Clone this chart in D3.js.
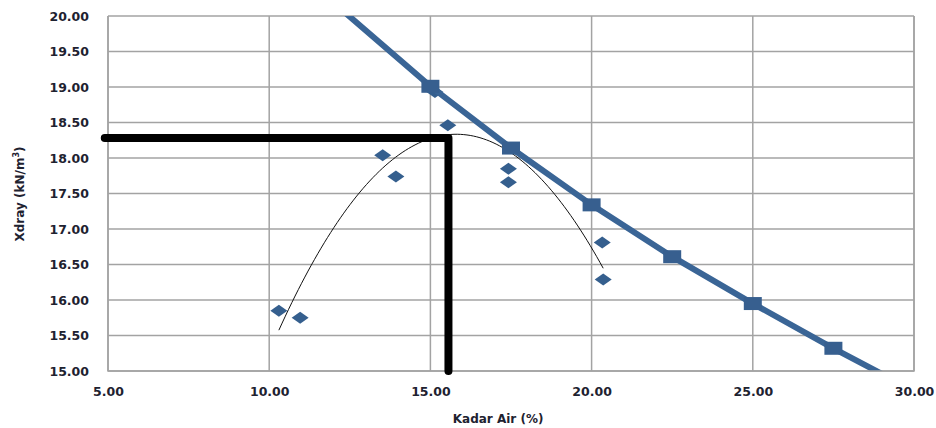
<!DOCTYPE html>
<html>
<head>
<meta charset="utf-8">
<script src="https://cdn.jsdelivr.net/npm/d3@7"></script>
<style>
	body { margin: 0; background: #fff; }
	svg { display: block; font-family: "DejaVu Sans", Verdana, sans-serif; }
</style>
</head>
<body>
<svg id="chart"></svg>
<script>
// zero air voids line (squares)
const zavX = [10, 15, 17.5, 20, 22.5, 25, 27.5, 30];
const zavY = [20.97, 19.01, 18.14, 17.34, 16.61, 15.95, 15.32, 14.72];
const zavMarked = [15, 17.5, 20, 22.5, 25, 27.5];

// compaction test points (diamonds)
const testX = [10.30, 10.96, 13.52, 13.93, 15.14, 15.54, 17.42, 17.42, 20.33, 20.36];
const testY = [15.85, 15.75, 18.04, 17.74, 18.93, 18.46, 17.85, 17.66, 16.81, 16.29];

// optimum moisture / max dry density guide
const optW = 15.56;
const maxDry = 18.28;

const xTicks = [5, 10, 15, 20, 25, 30];
const yTicks = [15, 15.5, 16, 16.5, 17, 17.5, 18, 18.5, 19, 19.5, 20];

const W = 936, H = 428;
const margin = { top: 16, right: 22, bottom: 57, left: 108 };
const width = W - margin.left - margin.right;
const height = H - margin.top - margin.bottom;

const svg = d3.select('#chart').attr('width', W).attr('height', H);

const x = d3.scaleLinear().domain([5, 30]).range([0, width]);
const y = d3.scaleLinear().domain([15, 20]).range([height, 0]);

svg.append('defs').append('clipPath').attr('id', 'clip')
	.append('rect').attr('x', 0).attr('y', 0).attr('width', width).attr('height', height);

const g = svg.append('g').attr('transform', `translate(${margin.left},${margin.top})`);

// grid
g.append('g').selectAll('line').data(yTicks).join('line')
	.attr('x1', 0).attr('x2', width)
	.attr('y1', d => y(d)).attr('y2', d => y(d))
	.attr('stroke', '#a3a3a3').attr('stroke-width', 1.5);
g.append('g').selectAll('line').data(xTicks).join('line')
	.attr('x1', d => x(d)).attr('x2', d => x(d))
	.attr('y1', 0).attr('y2', height)
	.attr('stroke', '#a3a3a3').attr('stroke-width', 1.5);

// axes labels
const yAxis = g.append('g').call(d3.axisLeft(y).tickValues(yTicks).tickFormat(d3.format('.2f')).tickSize(0).tickPadding(19));
yAxis.select('.domain').remove();
const xAxis = g.append('g').attr('transform', `translate(0,${height})`)
	.call(d3.axisBottom(x).tickValues(xTicks).tickFormat(d3.format('.2f')).tickSize(0).tickPadding(16));
xAxis.select('.domain').remove();
svg.selectAll('.tick text')
	.attr('font-family', '"DejaVu Sans", Verdana, sans-serif')
	.attr('font-size', 12.5).attr('font-weight', 'bold').attr('fill', '#1e2230');

const plot = g.append('g').attr('clip-path', 'url(#clip)');

// polynomial trendline (2nd order least squares on test points)
function polyFit(xs, ys) {
	let n = xs.length, s = [0, 0, 0, 0, 0], t = [0, 0, 0];
	for (let i = 0; i < n; i++) {
		let p = 1;
		for (let k = 0; k < 5; k++) { s[k] += p; if (k < 3) t[k] += p * ys[i]; p *= xs[i]; }
	}
	let A = [[s[0], s[1], s[2], t[0]], [s[1], s[2], s[3], t[1]], [s[2], s[3], s[4], t[2]]];
	for (let i = 0; i < 3; i++) {
		for (let j = i + 1; j < 3; j++) {
			let f = A[j][i] / A[i][i];
			for (let k = i; k < 4; k++) A[j][k] -= f * A[i][k];
		}
	}
	let c = [0, 0, 0];
	for (let i = 2; i >= 0; i--) {
		let v = A[i][3];
		for (let k = i + 1; k < 3; k++) v -= A[i][k] * c[k];
		c[i] = v / A[i][i];
	}
	return c;
}
const coef = polyFit(testX, testY);
const xMin = d3.min(testX), xMax = d3.max(testX);
const trend = d3.range(0, 101).map(i => {
	let xv = xMin + (xMax - xMin) * i / 100;
	return [xv, coef[0] + coef[1] * xv + coef[2] * xv * xv];
});
plot.append('path')
	.attr('fill', 'none').attr('stroke', '#111').attr('stroke-width', 1)
	.attr('d', d3.line().x(d => x(d[0])).y(d => y(d[1]))(trend));

// diamonds
plot.append('g').selectAll('path').data(testX.map((d, i) => [d, testY[i]])).join('path')
	.attr('transform', d => `translate(${x(d[0])},${y(d[1])})`)
	.attr('d', 'M0,-6L8.5,0L0,6L-8.5,0Z')
	.attr('fill', '#355f8e');

// zav line
const zav = zavX.map((d, i) => [d, zavY[i]]);
plot.append('path')
	.attr('fill', 'none').attr('stroke', '#3a6596').attr('stroke-width', 6)
	.attr('d', d3.line().x(d => x(d[0])).y(d => y(d[1]))(zav));
plot.append('g').selectAll('rect').data(zav.filter(d => zavMarked.includes(d[0]))).join('rect')
	.attr('x', d => x(d[0]) - 9).attr('y', d => y(d[1]) - 6.5)
	.attr('width', 18).attr('height', 13)
	.attr('fill', '#375f8f');

// plot border
g.append('path')
	.attr('fill', 'none').attr('stroke', '#a3a3a3').attr('stroke-width', 1.5)
	.attr('d', `M0,0V${height}H${width}V0`);

// optimum guide lines
g.append('path')
	.attr('fill', 'none').attr('stroke', '#000').attr('stroke-width', 8)
	.attr('stroke-linecap', 'round').attr('stroke-linejoin', 'round')
	.attr('d', d3.line().x(d => x(d[0])).y(d => y(d[1]))([[4.9, maxDry], [optW, maxDry], [optW, 15]]));

// axis titles
svg.append('text')
	.attr('x', margin.left + x(17.1)).attr('y', 423)
	.attr('text-anchor', 'middle')
	.attr('font-size', 12).attr('font-weight', 'bold').attr('fill', '#1e2230')
	.text('Kadar Air (%)');

const yt = svg.append('text')
	.attr('transform', 'translate(24,194) rotate(-90)')
	.attr('text-anchor', 'middle')
	.attr('font-size', 12).attr('font-weight', 'bold').attr('fill', '#1e2230');
yt.append('tspan').text('Xdray (kN/m');
yt.append('tspan').attr('font-size', 8).attr('dy', -5).text('3');
yt.append('tspan').attr('dy', 5).text(')');
</script>
</body>
</html>
